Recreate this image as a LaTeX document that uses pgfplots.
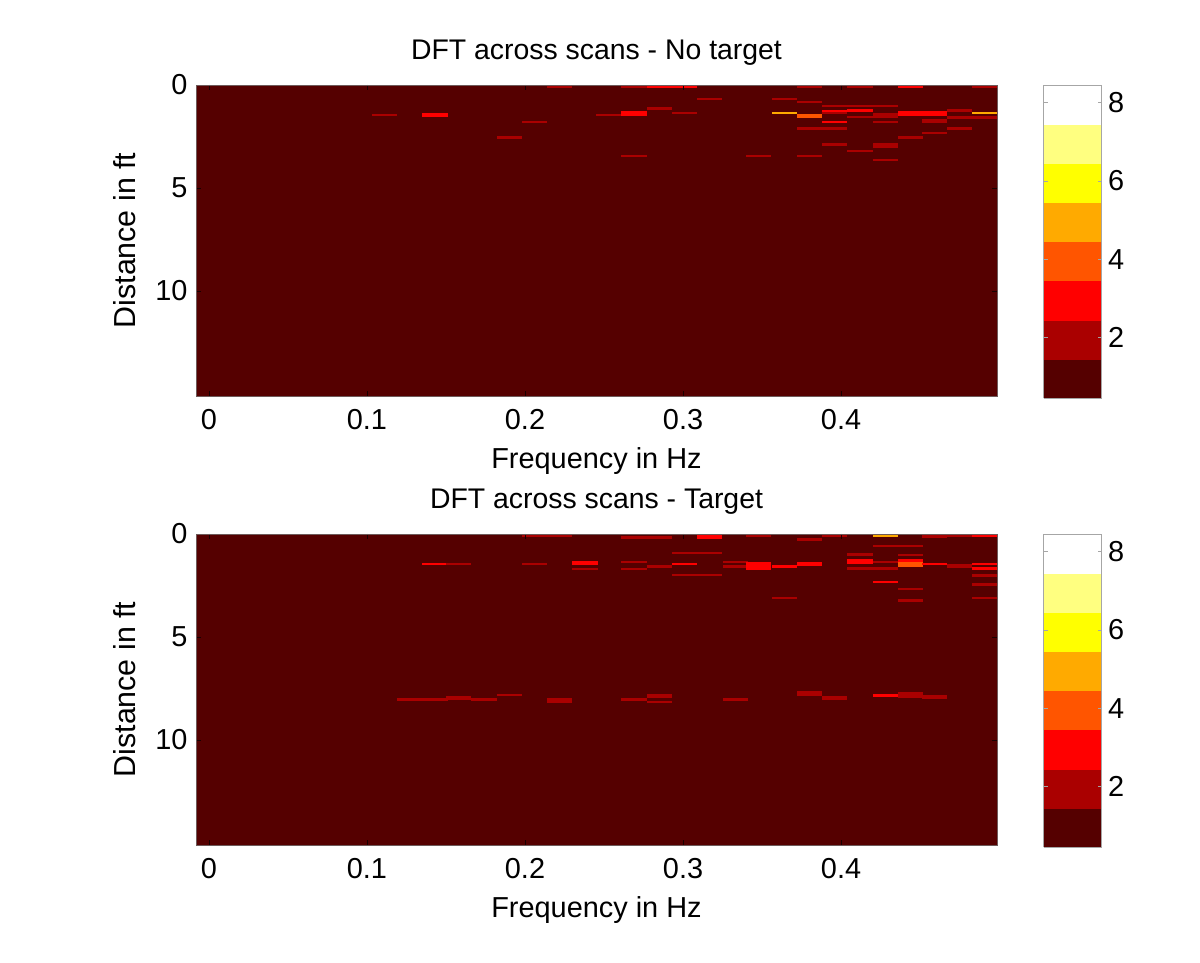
\documentclass[border=0pt]{standalone}
\usepackage{fontspec}
\setmainfont{Liberation Sans}
\usepackage{pgfplots}
\usepackage{pgfplotstable}
\pgfplotsset{compat=1.18}
\pgfdeclareplotmark{cell}{\pgfpathrectangle{\pgfqpoint{-12.6bp}{-1.3bp}}{\pgfqpoint{25.2bp}{2.6bp}}\pgfusepathqfill}
\pgfplotstableread{
x y c
0.111 1.46 2
0.143 1.41 3
0.143 1.50 3
0.190 2.56 2
0.206 1.79 2
0.222 0.08 2
0.253 1.46 2
0.269 0.08 2
0.269 1.34 3
0.269 1.44 3
0.269 3.44 2
0.285 0.08 3
0.285 1.15 2
0.301 0.08 3
0.301 1.36 2
0.317 0.69 2
0.348 3.44 2
0.364 0.69 2
0.364 1.36 5
0.380 0.08 2
0.380 0.82 2
0.380 1.46 4
0.380 1.52 4
0.380 2.12 2
0.380 3.44 2
0.396 1.02 2
0.396 1.26 3
0.396 1.36 2
0.396 1.79 3
0.396 2.12 2
0.396 2.90 2
0.412 0.08 2
0.412 1.02 2
0.412 1.25 3
0.412 1.55 2
0.412 3.20 2
0.428 1.02 2
0.428 1.44 2
0.428 1.55 2
0.428 1.79 2
0.428 2.90 2
0.428 3.00 2
0.428 3.64 2
0.444 0.08 3
0.444 1.34 3
0.444 1.44 3
0.444 2.56 2
0.459 1.34 3
0.459 1.44 3
0.459 1.70 2
0.459 1.80 2
0.459 2.33 2
0.475 1.25 2
0.475 1.57 2
0.475 2.12 2
0.491 0.08 2
0.491 1.36 5
0.491 1.57 2
}\notarget
\pgfplotstableread{
x y c
0.143 1.46 3
0.158 1.46 2
0.127 8.04 2
0.143 8.04 2
0.158 7.94 2
0.158 8.00 2
0.174 8.04 2
0.190 7.81 2
0.222 0.08 2
0.206 0.08 2
0.206 1.46 2
0.222 8.05 2
0.222 8.15 2
0.238 1.36 3
0.238 1.46 3
0.238 1.70 2
0.269 0.16 2
0.269 1.36 2
0.269 1.70 2
0.269 8.04 2
0.285 0.16 2
0.285 1.59 2
0.285 7.81 2
0.285 7.91 2
0.285 8.15 2
0.301 0.92 2
0.301 1.46 3
0.301 2.00 2
0.317 0.08 3
0.317 0.16 3
0.317 0.92 2
0.317 2.00 2
0.333 1.36 2
0.333 1.59 2
0.333 8.04 2
0.348 0.08 2
0.348 1.41 3
0.348 1.51 3
0.348 1.60 3
0.348 1.70 3
0.364 1.60 3
0.364 1.55 3
0.364 3.10 2
0.380 0.26 2
0.380 1.41 3
0.380 1.51 3
0.380 7.70 2
0.380 7.80 2
0.396 0.08 2
0.396 7.92 2
0.396 8.02 2
0.412 1.00 2
0.412 1.27 3
0.412 1.37 3
0.412 1.68 2
0.428 0.08 5
0.428 0.58 2
0.428 1.36 2
0.428 1.68 2
0.428 2.34 3
0.428 7.84 3
0.444 0.58 2
0.444 1.02 2
0.444 1.29 3
0.444 1.43 4
0.444 1.53 4
0.444 2.67 2
0.444 3.22 2
0.444 7.72 2
0.444 7.82 2
0.444 7.89 2
0.459 0.08 2
0.459 0.15 2
0.459 1.46 3
0.459 7.86 2
0.459 7.93 2
0.475 0.10 2
0.475 1.50 2
0.475 1.58 2
0.491 0.08 3
0.491 1.46 3
0.491 1.68 3
0.491 2.02 2
0.491 2.44 2
0.491 3.10 2
}\target
\definecolor{lvlone}{RGB}{85,0,0}
\definecolor{edge}{RGB}{110,90,90}
\pgfplotsset{
  panel/.style={
    scale only axis, width=801bp, height=311bp, anchor=south west,
    xmin=-0.0082, xmax=0.4987, ymin=0, ymax=15.1, y dir=reverse,
    xtick={0,0.1,0.2,0.3,0.4}, xticklabels={0,0.1,0.2,0.3,0.4},
    ytick={0,5,10}, yticklabels={0,5,10},
    tick align=inside, major tick length=5bp, tick style={black!70!lvlone, line width=0.6bp},
    axis line style={edge, line width=0.8bp},
    axis on top,
    axis background/.style={fill=lvlone},
    tick label style={font=\fontsize{29}{33}\selectfont},
    xticklabel style={yshift=-10bp},
    yticklabel style={xshift=-5bp, yshift=0bp},
    label style={font=\fontsize{29}{33}\selectfont},
    title style={font=\fontsize{28.5}{33}\selectfont, yshift=10bp},
    xlabel={Frequency in Hz}, ylabel={Distance in ft},
    xlabel style={yshift=-11bp},
    ylabel style={yshift=13bp, font=\fontsize{30.5}{33}\selectfont},
    colormap={hoteight}{rgb255=(85,0,0) rgb255=(170,0,0) rgb255=(255,0,0) rgb255=(255,85,0) rgb255=(255,170,0) rgb255=(255,255,0) rgb255=(255,255,128) rgb255=(255,255,255)},
    colormap access=piecewise constant,
    point meta min=0.45, point meta max=8.45,
    clip marker paths=true,
    colorbar sampled,
    colorbar style={
      samples=9, width=58bp, height=313bp,
      at={(parent axis.south east)}, anchor=north west,
      xshift=38bp, yshift=311bp,
      ytick={2,4,6,8}, yticklabels={2,4,6,8},
      tick align=inside, major tick length=4bp,
      axis line style={gray!70}, tick style={gray!70},
      tick label style={font=\fontsize{29}{33}\selectfont},
      yticklabel style={xshift=3bp},
      yticklabel pos=right, y dir=normal,
      scaled y ticks=false,
    },
  },
}
\begin{document}
\begin{tikzpicture}[x=1bp,y=1bp]
\useasboundingbox (0,0) rectangle (1200,963);
\begin{axis}[panel, at={(196bp,567bp)}, title={DFT across scans - No target}]
\addplot[scatter, only marks, mark=cell, scatter src=explicit] table[x=x,y=y,meta=c] {\notarget};
\end{axis}
\begin{axis}[panel, at={(196bp,118bp)}, title={DFT across scans - Target}]
\addplot[scatter, only marks, mark=cell, scatter src=explicit] table[x=x,y=y,meta=c] {\target};
\end{axis}
\end{tikzpicture}
\end{document}
